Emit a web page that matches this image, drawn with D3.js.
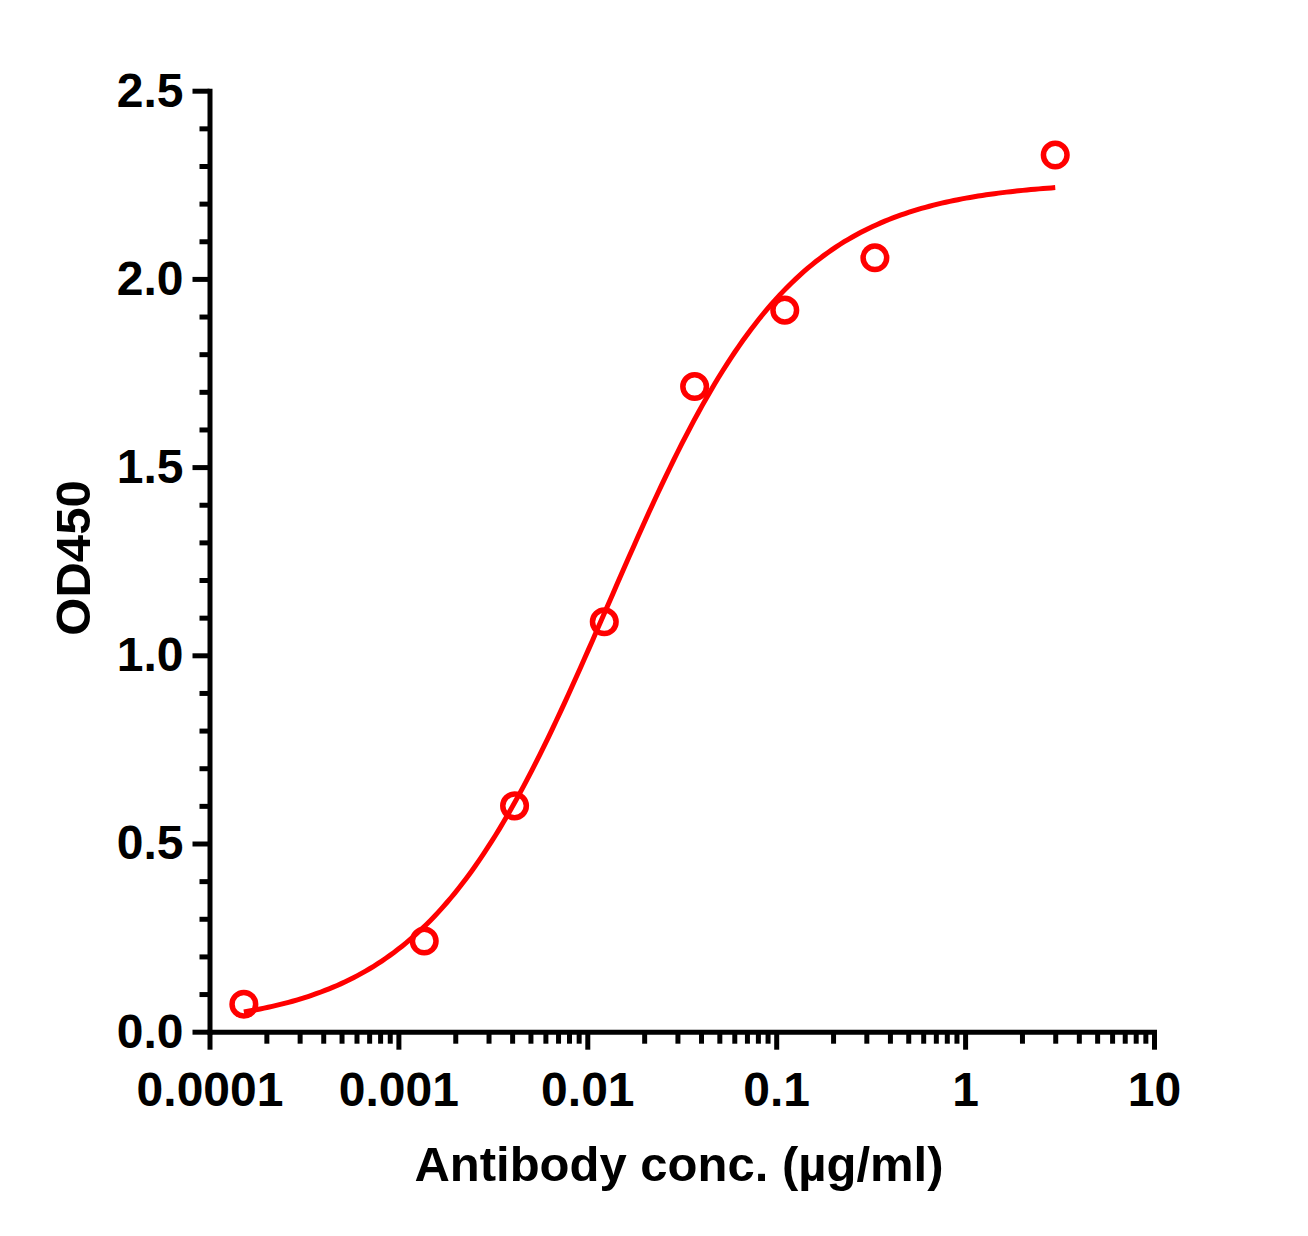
<!DOCTYPE html>
<html>
<head>
<meta charset="utf-8">
<script src="https://cdn.jsdelivr.net/npm/d3@7/dist/d3.min.js"></script>
<style>
  html, body { margin: 0; padding: 0; background: #fff; }
  svg { display: block; }
  text { font-family: "Liberation Sans", Arial, sans-serif; font-weight: bold; fill: #000; }
</style>
</head>
<body>
<svg id="chart" width="1308" height="1236"></svg>
<script>
// ---- data ----
const concentrations = [0.000152, 0.00137, 0.00412, 0.0123, 0.037, 0.111, 0.333, 3];
const od450 = [0.073, 0.241, 0.600, 1.089, 1.714, 1.917, 2.056, 2.329];
const xTickValues = [0.0001, 0.001, 0.01, 0.1, 1, 10];
const xTickLabels = ["0.0001", "0.001", "0.01", "0.1", "1", "10"];
const yTickValues = [0, 0.5, 1.0, 1.5, 2.0, 2.5];
const yTickLabels = ["0.0", "0.5", "1.0", "1.5", "2.0", "2.5"];
// four-parameter logistic fit shown as the curve
const fitBottom = 0.01;
const fitTop = 2.26;
const fitEC50 = 0.0129;
const fitHill = 0.89;
const xTitle = "Antibody conc. (µg/ml)";
const yTitle = "OD450";

// ---- layout ----
const svg = d3.select("#chart");
const plotLeft = 209.5, plotRight = 1154, plotTop = 90.7, plotBottom = 1031.7;
const red = "#ff0000";

const x = d3.scaleLog().domain([0.0001, 10]).range([plotLeft, plotRight]);
const y = d3.scaleLinear().domain([0, 2.5]).range([plotBottom, plotTop]);

// minor ticks
const yMinor = d3.range(0, 2.5001, 0.1).filter(v => Math.abs(v * 2 - Math.round(v * 2)) > 1e-6);
const xMinor = [];
for (let e = -4; e < 1; e++) for (let m = 2; m <= 9; m++) xMinor.push(m * Math.pow(10, e));

const axes = svg.append("g");

// y minor
axes.append("g").attr("transform", `translate(${plotLeft},0)`)
  .call(d3.axisLeft(y).tickValues(yMinor).tickSize(10).tickSizeOuter(0).tickFormat(""))
  .call(g => g.select(".domain").remove())
  .call(g => g.selectAll("line").attr("stroke", "#000").attr("stroke-width", 5));

// x minor
axes.append("g").attr("transform", `translate(0,${plotBottom})`)
  .call(d3.axisBottom(x).tickValues(xMinor).tickSize(12).tickSizeOuter(0).tickFormat(""))
  .call(g => g.select(".domain").remove())
  .call(g => g.selectAll("line").attr("stroke", "#000").attr("stroke-width", 5));

// y major
axes.append("g").attr("transform", `translate(${plotLeft},0)`)
  .call(d3.axisLeft(y).tickValues(yTickValues).tickSize(17).tickSizeOuter(0).tickPadding(9)
    .tickFormat((d, i) => yTickLabels[i]))
  .call(g => g.select(".domain").attr("stroke", "#000").attr("stroke-width", 5).attr("stroke-linecap", "square"))
  .call(g => g.selectAll(".tick line").attr("stroke", "#000").attr("stroke-width", 5))
  .call(g => g.selectAll(".tick text").attr("font-size", 48)
    .style("font-family", '"Liberation Sans", Arial, sans-serif').style("font-weight", "bold").attr("fill", "#000"));

// x major
axes.append("g").attr("transform", `translate(0,${plotBottom})`)
  .call(d3.axisBottom(x).tickValues(xTickValues).tickSize(18).tickSizeOuter(0).tickPadding(22)
    .tickFormat((d, i) => xTickLabels[i]))
  .call(g => g.select(".domain").attr("stroke", "#000").attr("stroke-width", 5).attr("stroke-linecap", "square"))
  .call(g => g.selectAll(".tick line").attr("stroke", "#000").attr("stroke-width", 5))
  .call(g => g.selectAll(".tick text").attr("font-size", 48)
    .style("font-family", '"Liberation Sans", Arial, sans-serif').style("font-weight", "bold").attr("fill", "#000"));

// titles
svg.append("text")
  .attr("x", 679).attr("y", 1181)
  .attr("text-anchor", "middle").attr("font-size", 49)
  .text(xTitle);

svg.append("text")
  .attr("transform", `translate(90,558) rotate(-90)`)
  .attr("text-anchor", "middle").attr("font-size", 49)
  .text(yTitle);

// fitted curve
const fit = c => fitBottom + (fitTop - fitBottom) / (1 + Math.pow(fitEC50 / c, fitHill));
const lx0 = Math.log10(concentrations[0]);
const lx1 = Math.log10(concentrations[concentrations.length - 1]);
const curvePts = d3.range(0, 201).map(i => Math.pow(10, lx0 + (lx1 - lx0) * i / 200));
svg.append("path")
  .datum(curvePts)
  .attr("fill", "none")
  .attr("stroke", red)
  .attr("stroke-width", 5)
  .attr("d", d3.line().x(c => x(c)).y(c => y(fit(c))).curve(d3.curveLinear));

// data points
svg.append("g").selectAll("circle")
  .data(concentrations.map((c, i) => ({ c, v: od450[i] })))
  .join("circle")
  .attr("cx", d => x(d.c))
  .attr("cy", d => y(d.v))
  .attr("r", 11.8)
  .attr("fill", "none")
  .attr("stroke", red)
  .attr("stroke-width", 5.5);
</script>
</body>
</html>
